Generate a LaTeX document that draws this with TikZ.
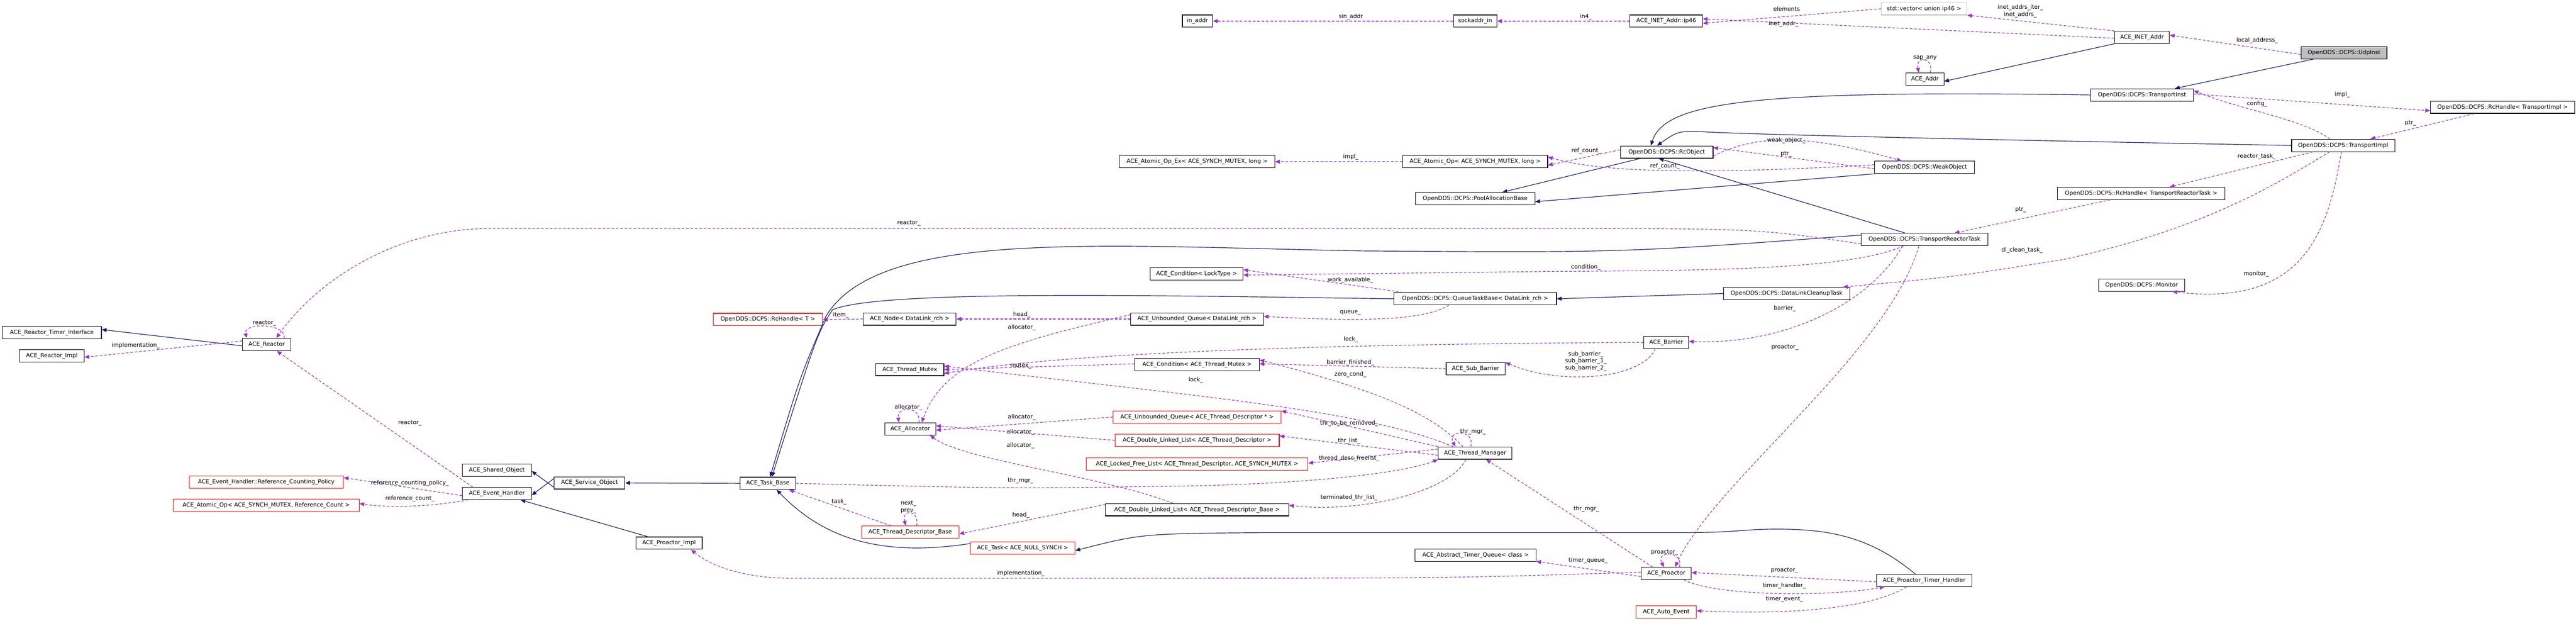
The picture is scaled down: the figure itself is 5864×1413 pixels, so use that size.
\documentclass[tikz,border=0pt]{standalone}
\usepackage{fontspec}
\setmainfont{DejaVu Sans}
\usetikzlibrary{arrows.meta}
\definecolor{navy}{HTML}{191970}
\definecolor{orch}{HTML}{9A32CD}
\definecolor{grayfill}{HTML}{BFBFBF}
\newcommand\fnt{\fontsize{13}{16}\selectfont}
\newcommand\lbl[3]{\node[lbl] (#1) at (#2) {#3};}
\tikzset{
 box/.style={draw=black,line width=1.3pt,minimum height=28pt,inner sep=2pt,font=\fnt,fill=white},
 rbox/.style={box,draw=red},
 inh/.style={draw=navy,line width=1.4pt,-{Triangle[length=11pt,width=9pt]}},
 use/.style={draw=orch,line width=1.4pt,dash pattern=on 6pt off 4pt,-{Triangle[length=11pt,width=9pt]}},
 lbl/.style={font=\fnt,inner sep=0pt,align=center}
}
\begin{document}
\begin{tikzpicture}[x=1pt,y=-1pt]
\useasboundingbox (0,0) rectangle (5864,1413);
% nodes
\node[box,fill=grayfill,minimum width=195] (udp) at (5336,120) {OpenDDS::DCPS::UdpInst};
\node[box,minimum width=125] (inet) at (4876,85) {ACE\_INET\_Addr};
\node[box,draw=grayfill,minimum width=195] (vec) at (4380,20) {std::vector< union ip46 >};
\node[box,minimum width=165] (ip46) at (3793,48) {ACE\_INET\_Addr::ip46};
\node[box,minimum width=99] (sock) at (3358,48) {sockaddr\_in};
\node[box,minimum width=69] (inaddr) at (2726,48) {in\_addr};
\node[box,minimum width=86] (addr) at (4382,180) {ACE\_Addr};
\node[box,minimum width=234] (tinst) at (4876,216) {OpenDDS::DCPS::TransportInst};
\node[box,minimum width=329] (rchti) at (5697,244) {OpenDDS::DCPS::RcHandle< TransportImpl >};
\node[box,minimum width=235] (timpl) at (5334,331) {OpenDDS::DCPS::TransportImpl};
\node[box,minimum width=211] (rcobj) at (3794,346) {OpenDDS::DCPS::RcObject};
\node[box,minimum width=228] (weak) at (4381,381) {OpenDDS::DCPS::WeakObject};
\node[box,minimum width=354] (aopex) at (2725,368) {ACE\_Atomic\_Op\_Ex< ACE\_SYNCH\_MUTEX, long >};
\node[box,minimum width=330] (aop) at (3358,368) {ACE\_Atomic\_Op< ACE\_SYNCH\_MUTEX, long >};
\node[box,minimum width=272] (pool) at (3358,452) {OpenDDS::DCPS::PoolAllocationBase};
\node[box,minimum width=382] (rchtrt) at (4874,440) {OpenDDS::DCPS::RcHandle< TransportReactorTask >};
\node[box,minimum width=289] (trt) at (4381,545) {OpenDDS::DCPS::TransportReactorTask};
\node[box,minimum width=287] (dlct) at (4067,668) {OpenDDS::DCPS::DataLinkCleanupTask};
\node[box,minimum width=196] (mon) at (4875,649) {OpenDDS::DCPS::Monitor};
\node[box,minimum width=102] (barrier) at (3793,779) {ACE\_Barrier};
\node[box,minimum width=370] (qtb) at (3358,680) {OpenDDS::DCPS::QueueTaskBase< DataLink\_rch >};
\node[box,minimum width=211] (condl) at (2724,623) {ACE\_Condition< LockType >};
\node[box,minimum width=211] (nodedl) at (2071,726) {ACE\_Node< DataLink\_rch >};
\node[box,minimum width=302] (uqdl) at (2725,726) {ACE\_Unbounded\_Queue< DataLink\_rch >};
\node[rbox,minimum width=249] (rcht) at (1748,727) {OpenDDS::DCPS::RcHandle< T >};
\node[box,minimum width=155] (tmutex) at (2071,841) {ACE\_Thread\_Mutex};
\node[box,minimum width=283] (condtm) at (2725,830) {ACE\_Condition< ACE\_Thread\_Mutex >};
\node[box,minimum width=134] (subb) at (3359,839) {ACE\_Sub\_Barrier};
\node[box,minimum width=116] (alloc) at (2072,976) {ACE\_Allocator};
\node[rbox,minimum width=382] (uqtd) at (2725,949) {ACE\_Unbounded\_Queue< ACE\_Thread\_Descriptor * >};
\node[rbox,minimum width=374] (dlltd) at (2725,1002) {ACE\_Double\_Linked\_List< ACE\_Thread\_Descriptor >};
\node[rbox,minimum width=505] (lfl) at (2725,1056) {ACE\_Locked\_Free\_List< ACE\_Thread\_Descriptor, ACE\_SYNCH\_MUTEX >};
\node[box,minimum width=168] (tmgr) at (3358,1031) {ACE\_Thread\_Manager};
\node[box,minimum width=417] (dlltdb) at (2725,1160) {ACE\_Double\_Linked\_List< ACE\_Thread\_Descriptor\_Base >};
\node[rbox,minimum width=222] (tdb) at (2072,1211) {ACE\_Thread\_Descriptor\_Base};
\node[rbox,minimum width=238] (tasknull) at (2328,1247) {ACE\_Task< ACE\_NULL\_SYNCH >};
\node[box,minimum width=275] (atq) at (3359,1264) {ACE\_Abstract\_Timer\_Queue< class >};
\node[box,minimum width=114] (proactor) at (3793,1305) {ACE\_Proactor};
\node[box,minimum width=217] (pth) at (4380,1321) {ACE\_Proactor\_Timer\_Handler};
\node[rbox,minimum width=137] (autoev) at (3793,1393) {ACE\_Auto\_Event};
\node[box,minimum width=126] (taskbase) at (1748,1100) {ACE\_Task\_Base};
\node[box,minimum width=161] (service) at (1342,1099) {ACE\_Service\_Object};
\node[box,minimum width=157] (shared) at (1131,1070) {ACE\_Shared\_Object};
\node[box,minimum width=157] (evh) at (1131,1123) {ACE\_Event\_Handler};
\node[rbox,minimum width=351] (rcp) at (606,1097) {ACE\_Event\_Handler::Reference\_Counting\_Policy};
\node[rbox,minimum width=423] (aor) at (606,1150) {ACE\_Atomic\_Op< ACE\_SYNCH\_MUTEX, Reference\_Count >};
\node[box,minimum width=151] (pimpl) at (1523,1236) {ACE\_Proactor\_Impl};
\node[box,minimum width=110] (reactor) at (607,784) {ACE\_Reactor};
\node[box,minimum width=226] (rti) at (118,757) {ACE\_Reactor\_Timer\_Interface};
\node[box,minimum width=147] (rimpl) at (118,810) {ACE\_Reactor\_Impl};
\coordinate (c1) at (3100,571);
\coordinate (c2) at (1115,520);
\coordinate (c3) at (3800,1212);
\coordinate (c4) at (1800,1316);
% inheritance
\draw[inh] ([xshift=-70]udp.south) -- ([xshift=75]tinst.north);
\draw[inh] (inet.south west) -- ([yshift=-5]addr.east);
\draw[inh] (tinst.west) .. controls (4000,205) and (3790,230) .. ([xshift=-36]rcobj.north);
\draw[inh] (timpl.west) .. controls (4500,318) and (3950,305) .. (3880,300) .. controls (3820,298) .. ([xshift=-22]rcobj.north);
\draw[inh] ([xshift=-60]rcobj.south) -- ([xshift=62]pool.north);
\draw[inh] (weak.south west) -- ([yshift=-7]pool.east);
\draw[inh] ([xshift=-44]trt.north) -- ([xshift=-18]rcobj.south);
\draw[inh] ([yshift=10]trt.west) .. controls (3700,575) .. (c1) .. controls (2500,560) and (2000,520) .. (1880,720) .. controls (1820,860) .. ([xshift=5]taskbase.north);
\draw[inh] (qtb.west) .. controls (2600,672) and (2000,660) .. (1895,705) .. controls (1860,760) .. ([xshift=9]taskbase.north);
\draw[inh] (dlct.west) -- (qtb.east);
\draw[inh] ([yshift=10]tasknull.west) .. controls (1980,1272) and (1860,1210) .. ([xshift=20]taskbase.south);
\draw[inh] ([xshift=-20]pth.north) .. controls (4250,1215) and (4150,1200) .. (4000,1205) .. controls (3900,1212) .. (c3) -- (2900,1212) .. controls (2600,1214) .. ([yshift=-6]tasknull.east);
\draw[inh] (taskbase.west) -- (service.east);
\draw[inh] ([yshift=-10]service.west) -- ([yshift=-2]shared.east);
\draw[inh] ([yshift=10]service.west) -- ([yshift=-4]evh.east);
\draw[inh] ([xshift=-48]pimpl.north) -- ([xshift=54]evh.south);
\draw[inh] ([yshift=-3]reactor.west) -- ([yshift=7]rti.east);
% usage
\draw[use] (ip46.west) -- (sock.east); \lbl{l1}{3610,38}{in4\_}
\draw[use] (sock.west) -- (inaddr.east); \lbl{l2}{3075,38}{sin\_addr}
\draw[use] (vec.west) -- ([yshift=-5]ip46.east); \lbl{l3}{4067,20}{elements}
\draw[use] ([yshift=-2]inet.west) -- ([yshift=5]ip46.east); \lbl{l4}{4060,55}{inet\_addr\_}
\draw[use] (inet.north west) -- (vec.south east); \lbl{l5}{4599,25}{inet\_addrs\_iter\_\\inet\_addrs\_}
\draw[use] ([yshift=-4]udp.west) -- ([yshift=5]inet.east); \lbl{l6}{5138,92}{local\_address\_}
\draw[use] ([xshift=12]addr.north) .. controls +(8,-38) and +(-8,-38) .. ([xshift=-14]addr.north); \lbl{l7}{4382,132}{sap\_any}
\draw[use] ([yshift=2]tinst.east) -- ([yshift=-8]rchti.west); \lbl{l8}{5332,215}{impl\_}
\draw[use] ([xshift=-30]timpl.north) .. controls (5240,270) and (5100,250) .. ([yshift=10]tinst.east); \lbl{l9}{5138,237}{config\_}
\draw[use] ([xshift=-65]rchti.south) -- ([xshift=62]timpl.north); \lbl{l10}{5487,280}{ptr\_}
\draw[use] ([xshift=-69]timpl.south) -- ([xshift=65]rchtrt.north); \lbl{l11}{5137,356}{reactor\_task\_}
\draw[use] ([xshift=-31]timpl.south) .. controls (5180,420) and (5020,520) .. (4700,590) .. controls (4450,630) .. ([xshift=128]dlct.north); \lbl{l12}{4603,570}{dl\_clean\_task\_}
\draw[use] ([xshift=-4]timpl.south) .. controls (5300,520) and (5250,700) .. ([xshift=70]mon.south); \lbl{l13}{5136,623}{monitor\_}
\draw[use] ([xshift=-70]rchtrt.south) -- ([xshift=68]trt.north); \lbl{l14}{4600,477}{ptr\_}
\draw[use] ([yshift=-9]rcobj.east) .. controls (3990,310) and (4100,300) .. ([xshift=-52]weak.north); \lbl{l15}{4066,320}{weak\_object\_}
\draw[use] ([yshift=-3]weak.west) -- ([yshift=10]rcobj.east); \lbl{l16}{4066,350}{ptr\_}
\draw[use] ([yshift=5]rcobj.west) -- ([yshift=-8]aop.east); \lbl{l17}{3611,343}{ref\_count\_}
\draw[use] ([yshift=6]weak.west) .. controls (3900,396) and (3650,395) .. ([yshift=11]aop.east); \lbl{l18}{3790,378}{ref\_count\_}
\draw[use] (aop.west) -- (aopex.east); \lbl{l19}{3075,357}{impl\_}
\draw[use] ([yshift=-10]trt.west) .. controls (4000,520) .. (3500,520) -- (c2) .. controls (900,520) and (720,640) .. ([xshift=22]reactor.north); \lbl{l20}{2069,508}{reactor\_}
\draw[use] ([xshift=-48]trt.south) .. controls (4200,620) and (3800,615) .. (3500,618) -- ([yshift=-3]condl.east); \lbl{l21}{3610,608}{condition\_}
\draw[use] ([xshift=-164]qtb.north) -- ([yshift=9]condl.east); \lbl{l22}{3074,638}{work\_available\_}
\draw[use] ([xshift=-60]qtb.south) .. controls (3240,730) and (3100,732) .. ([yshift=6]uqdl.east); \lbl{l23}{3074,712}{queue\_}
\draw[use] (uqdl.west) -- (nodedl.east); \lbl{l24}{2326,716}{head\_}
\draw[use] (nodedl.west) -- (rcht.east); \lbl{l25}{1914,717}{item\_}
\draw[use] ([yshift=10]uqdl.west) .. controls (2300,780) and (2150,820) .. ([xshift=26]alloc.north); \lbl{l26}{2326,745}{allocator\_}
\draw[use] ([xshift=20]alloc.north) .. controls +(5,-38) and +(-5,-38) .. ([xshift=-26]alloc.north); \lbl{l27}{2068,927}{allocator\_}
\draw[use] ([xshift=-13]trt.south) .. controls (4300,800) and (3900,1100) .. ([xshift=20]proactor.north); \lbl{l28}{4063,790}{proactor\_}
\draw[use] ([xshift=-50]trt.south) .. controls (4250,700) and (4050,785) .. ([yshift=2]barrier.east); \lbl{l29}{4063,702}{barrier\_}
\draw[use] (barrier.west) .. controls (3300,782) and (2500,790) .. ([yshift=-9]tmutex.east); \lbl{l30}{3075,772}{lock\_}
\draw[use] ([xshift=-25]barrier.south) .. controls (3740,860) and (3560,880) .. ([yshift=14]subb.east); \lbl{l31}{3610,822}{sub\_barrier\_\\sub\_barrier\_1\_\\sub\_barrier\_2\_}
\draw[use] (subb.west) -- ([yshift=2]condtm.east); \lbl{l32}{3074,825}{barrier\_finished\_}
\draw[use] ([yshift=2]condtm.west) -- ([yshift=0]tmutex.east); \lbl{l33}{2324,832}{mutex\_}
\draw[use] ([xshift=-28]tmgr.north) .. controls (3250,930) and (3100,880) .. ([yshift=11]condtm.east); \lbl{l34}{3074,852}{zero\_cond\_}
\draw[use] ([xshift=-50]tmgr.north) .. controls (3100,930) and (2700,900) .. ([yshift=8]tmutex.east); \lbl{l35}{2722,865}{lock\_}
\draw[use] ([xshift=-10]tmgr.north) .. controls +(10,-40) and +(-20,-40) .. ([xshift=-45]tmgr.north); \lbl{l36}{3353,982}{thr\_mgr\_}
\draw[use] (tmgr.north west) -- ([yshift=14]uqtd.east); \lbl{l37}{3071,964}{thr\_to\_be\_removed\_}
\draw[use] ([yshift=-5]tmgr.west) -- ([yshift=10]dlltd.east); \lbl{l38}{3071,1003}{thr\_list\_}
\draw[use] ([yshift=9]tmgr.west) -- ([yshift=2]lfl.east); \lbl{l39}{3071,1043}{thread\_desc\_freelist\_}
\draw[use] ([xshift=-21]tmgr.south) .. controls (3300,1120) and (3100,1168) .. ([yshift=10]dlltdb.east); \lbl{l40}{3071,1133}{terminated\_thr\_list\_}
\draw[use] (uqtd.west) -- ([yshift=-3]alloc.east); \lbl{l41}{2326,950}{allocator\_}
\draw[use] (dlltd.west) -- ([yshift=7]alloc.east); \lbl{l42}{2323,984}{allocator\_}
\draw[use] ([xshift=-55]dlltdb.north) .. controls (2500,1080) and (2200,1050) .. ([xshift=45]alloc.south); \lbl{l43}{2323,1014}{allocator\_}
\draw[use] ([yshift=12]dlltdb.west) -- ([yshift=-4]tdb.east); \lbl{l44}{2324,1172}{head\_}
\draw[use] ([xshift=15]tdb.north) .. controls +(5,-38) and +(-10,-38) .. ([xshift=-10]tdb.north); \lbl{l45}{2068,1154}{next\_\\prev\_}
\draw[use] ([xshift=-44]tdb.north) -- ([xshift=48]taskbase.south); \lbl{l46}{1910,1142}{task\_}
\draw[use] (taskbase.east) .. controls (2300,1112) .. (2700,1106) .. controls (3000,1100) and (3200,1075) .. (tmgr.south west); \lbl{l47}{2323,1094}{thr\_mgr\_}
\draw[use] ([xshift=-31]proactor.north) -- ([xshift=25]tmgr.south); \lbl{l48}{3611,1158}{thr\_mgr\_}
\draw[use] ([xshift=30]proactor.north) .. controls +(10,-38) and +(-20,-38) .. ([xshift=-5]proactor.north); \lbl{l49}{3789,1257}{proactor\_}
\draw[use] ([yshift=-7]proactor.west) -- ([yshift=1]atq.south east); \lbl{l50}{3615,1275}{timer\_queue\_}
\draw[use] ([yshift=3]proactor.west) .. controls (3300,1316) .. (2500,1316) -- (c4) .. controls (1700,1316) and (1620,1290) .. ([xshift=50]pimpl.south); \lbl{l51}{2323,1305}{implementation\_}
\draw[use] ([yshift=-3]pth.west) -- ([yshift=2]proactor.east); \lbl{l52}{4062,1298}{proactor\_}
\draw[use] ([xshift=40]proactor.south) .. controls (3900,1355) and (4150,1360) .. ([xshift=-90]pth.south); \lbl{l53}{4062,1333}{timer\_handler\_}
\draw[use] ([xshift=-40]pth.south) .. controls (4250,1390) and (4050,1398) .. ([yshift=3]autoev.east); \lbl{l54}{4062,1364}{timer\_event\_}
\draw[use] ([xshift=-55]evh.north) -- ([xshift=23]reactor.south); \lbl{l55}{933,963}{reactor\_}
\draw[use] ([yshift=-5]evh.west) -- ([yshift=10]rcp.east); \lbl{l56}{933,1100}{reference\_counting\_policy\_}
\draw[use] ([xshift=-65]evh.south) .. controls (1000,1150) and (900,1158) .. ([yshift=4]aor.east); \lbl{l57}{933,1135}{reference\_count\_}
\draw[use] ([yshift=8]reactor.west) -- ([yshift=-3]rimpl.east); \lbl{l58}{309,787}{implementation\_}
\draw[use] ([xshift=40]reactor.north) .. controls +(5,-35) and +(-10,-35) .. ([xshift=-45]reactor.north); \lbl{l59}{602,735}{reactor\_}
\end{tikzpicture}
\end{document}
